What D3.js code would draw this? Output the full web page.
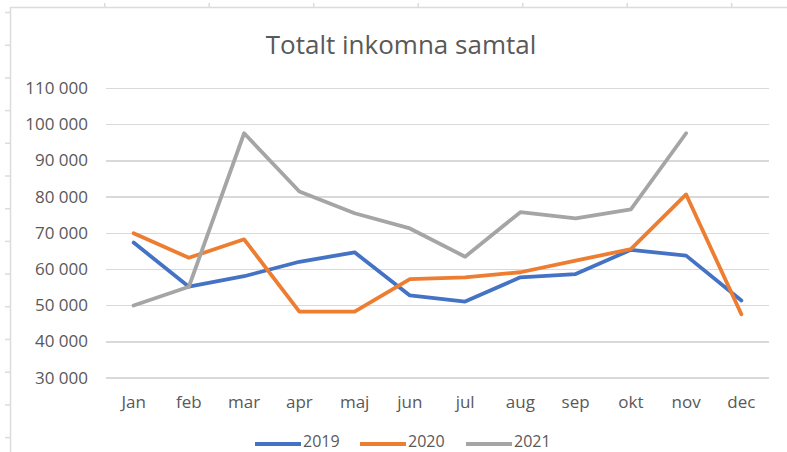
<!DOCTYPE html>
<html lang="sv">
<head>
    <meta charset="UTF-8">
    <title>Totalt inkomna samtal</title>
    <script src="https://cdn.jsdelivr.net/npm/d3@7"></script>
    <style>
        body { margin: 0; background: #fff; }
        text { font-family: "Open Sans", sans-serif; fill: #595959; }
        .grid line { stroke: #d9d9d9; stroke-width: 1.3; shape-rendering: crispEdges; }
        .grid path { display: none; }
        .axis path, .axis line { display: none; }
        .axis text { font-size: 17px; fill: #595959; }
        .serie { fill: none; stroke-width: 3.8; stroke-linejoin: round; stroke-linecap: round; }
    </style>
</head>
<body>
<script>
	// data
	var months = ["Jan", "feb", "mar", "apr", "maj", "jun", "jul", "aug", "sep", "okt", "nov", "dec"];
	var years = ["2019", "2020", "2021"];
	var values2019 = [67300, 55100, 58000, 62000, 64600, 52700, 51000, 57700, 58600, 65300, 63700, 51300];
	var values2020 = [69900, 63100, 68200, 48200, 48200, 57200, 57700, 59100, 62300, 65500, 80600, 47500];
	var values2021 = [49900, 55100, 97500, 81400, 75400, 71200, 63400, 75700, 74000, 76500, 97500, null];
	var yTicks = [30000, 40000, 50000, 60000, 70000, 80000, 90000, 100000, 110000];
	var colors = ["#4472c4", "#ed7d31", "#a5a5a5"];

	var width = 787;
	var height = 452;
	var svg = d3.select("body")
		.append("svg")
		.attr("width", width)
		.attr("height", height);

	// spreadsheet frame behind the chart
	var frame = svg.append("g").attr("stroke", "#dcdcdc").attr("stroke-width", 1.5);
	frame.append("line").attr("x1", 10).attr("x2", width).attr("y1", 7.5).attr("y2", 7.5);
	frame.append("line").attr("x1", 10.5).attr("x2", 10.5).attr("y1", 7).attr("y2", height);
	for (var c = 0; c < 7; c++) {
		var cx = 104.7 + c * 104.5;
		frame.append("line").attr("x1", cx).attr("x2", cx).attr("y1", 3).attr("y2", 7);
	}
	for (var r = 0; r < 14; r++) {
		var ry = 12.5 + r * 32.7;
		frame.append("line").attr("x1", 5).attr("x2", 10).attr("y1", ry).attr("y2", ry);
	}

	// scales
	var x = d3.scaleBand()
		.domain(months)
		.range([106, 769]);
	var y = d3.scaleLinear()
		.domain([30000, 110000])
		.range([377.6, 88]);

	var fmt = function (d) { return d3.format(",")(d).replace(/,/g, " "); };

	// gridlines
	svg.append("g")
		.attr("class", "grid")
		.attr("transform", "translate(106,0)")
		.call(d3.axisLeft(y).tickValues(yTicks).tickSize(-(769 - 106)).tickFormat(""));

	// y axis labels
	svg.append("g")
		.attr("class", "axis")
		.attr("transform", "translate(96,0)")
		.call(d3.axisLeft(y).tickValues(yTicks).tickSize(0).tickPadding(8).tickFormat(fmt));

	// x axis labels
	svg.append("g")
		.attr("class", "axis")
		.attr("transform", "translate(0,390)")
		.call(d3.axisBottom(x).tickSize(0).tickPadding(6));

	// lines
	var series = [values2019, values2020, values2021];
	var line = d3.line()
		.defined(function (d) { return d != null; })
		.x(function (d, i) { return x(months[i]) + x.bandwidth() / 2; })
		.y(function (d) { return y(d); });

	svg.selectAll("path.serie")
		.data(series)
		.enter()
		.append("path")
		.attr("class", "serie")
		.attr("stroke", function (d, i) { return colors[i]; })
		.attr("d", line);

	// title
	svg.append("text")
		.attr("x", 401)
		.attr("y", 54)
		.attr("text-anchor", "middle")
		.style("font-size", "26px")
		.text("Totalt inkomna samtal");

	// legend
	var legendX = [255, 360, 466];
	var legend = svg.selectAll("g.legend")
		.data(years)
		.enter()
		.append("g")
		.attr("class", "legend")
		.attr("transform", function (d, i) { return "translate(" + legendX[i] + ",444)"; });
	legend.append("line")
		.attr("x1", 0).attr("x2", 46)
		.attr("stroke", function (d, i) { return colors[i]; })
		.attr("stroke-width", 3.8);
	legend.append("text")
		.attr("x", 48)
		.attr("y", 3)
		.style("font-size", "16px")
		.text(function (d) { return d; });
</script>
</body>
</html>
